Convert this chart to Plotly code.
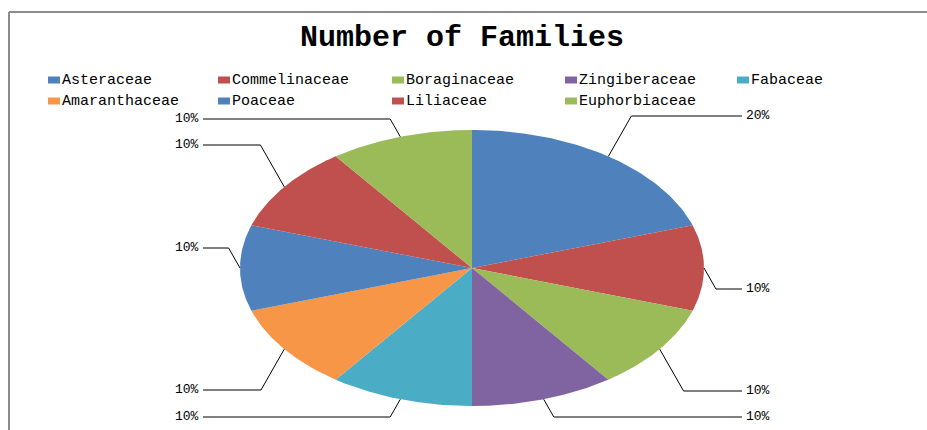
import numpy as np
import plotly.graph_objects as go

# ---- data ----
categories = ["Asteraceae", "Commelinaceae", "Boraginaceae", "Zingiberaceae", "Fabaceae",
              "Amaranthaceae", "Poaceae", "Liliaceae", "Euphorbiaceae"]
values = [2, 1, 1, 1, 1, 1, 1, 1, 1]
title_text = "Number of Families"

# ---- styles / layout positions ----
colors = ["#4F81BD", "#C0504D", "#9BBB59", "#8064A2", "#4BACC6",
          "#F79646", "#4F81BD", "#C0504D", "#9BBB59"]
W, H = 927, 430
CX, CY, RX, RY = 472, 268, 232, 138          # elliptical pie geometry (pixels)
LABEL_Y = [116, 289, 391, 417, 417, 390, 248, 145, 119]   # leader line levels
RIGHT_END, LEFT_END = 742, 203
SLANT = 0.57
LEGEND_COL_X = [48, 218, 392, 565, 737]
LEGEND_ROW_Y = [80, 101]
MONO = "Liberation Mono, DejaVu Sans Mono, monospace"

fig = go.Figure()
total = float(sum(values))
cum = 0.0
annotations = []
for i, (cat, v, c) in enumerate(zip(categories, values, colors)):
    a0 = 2 * np.pi * cum / total
    a1 = 2 * np.pi * (cum + v) / total
    t = np.linspace(a0, a1, 80)
    xs = np.concatenate([[CX], CX + RX * np.sin(t), [CX]])
    ys = np.concatenate([[CY], CY - RY * np.cos(t), [CY]])
    pct = f"{round(100 * v / total)}%"
    fig.add_trace(go.Scatter(x=xs, y=ys, mode="lines", fill="toself", fillcolor=c,
                             line=dict(width=0, color=c), showlegend=False,
                             hoverinfo="text", hoveron="fills", text=f"{cat}: {v} ({pct})"))
    # leader line
    am = (a0 + a1) / 2
    mx, my = CX + RX * np.sin(am), CY - RY * np.cos(am)
    side = 1 if np.sin(am) > 1e-9 else -1
    ly = LABEL_Y[i]
    ex = mx + side * SLANT * abs(ly - my)
    endx = RIGHT_END if side > 0 else LEFT_END
    fig.add_trace(go.Scatter(x=[mx, ex, endx], y=[my, ly, ly], mode="lines",
                             line=dict(color="black", width=1), showlegend=False,
                             hoverinfo="skip"))
    annotations.append(dict(x=endx + (2 if side > 0 else -2), y=ly - 1, xref="x", yref="y",
                            text=pct, showarrow=False,
                            xanchor="left" if side > 0 else "right", yanchor="middle",
                            font=dict(family=MONO, size=13, color="black")))
    cum += v

# legend (manual, Excel-like)
shapes = []
leg_x, leg_y, leg_t = [], [], []
for i, (cat, c) in enumerate(zip(categories, colors)):
    col, row = i % 5, i // 5
    x0 = LEGEND_COL_X[col]
    y0 = LEGEND_ROW_Y[row]
    shapes.append(dict(type="rect", xref="x", yref="y", x0=x0, x1=x0 + 12,
                       y0=y0 - 3.5, y1=y0 + 3.5, fillcolor=c, line=dict(width=0)))
    leg_x.append(x0 + 14)
    leg_y.append(y0)
    leg_t.append(cat)
fig.add_trace(go.Scatter(x=leg_x, y=leg_y, mode="text", text=leg_t,
                         textposition="middle right",
                         textfont=dict(family=MONO, size=15, color="black"),
                         showlegend=False, hoverinfo="skip"))

# chart border (top and left edges visible)
shapes.append(dict(type="line", xref="x", yref="y", x0=9, x1=W, y0=12, y1=12,
                   line=dict(color="#8C8C8C", width=2)))
shapes.append(dict(type="line", xref="x", yref="y", x0=9, x1=9, y0=12, y1=H,
                   line=dict(color="#8C8C8C", width=2)))

annotations.append(dict(x=462, y=38, xref="x", yref="y", text=f"<b>{title_text}</b>",
                        showarrow=False, xanchor="center", yanchor="middle",
                        font=dict(family=MONO, size=30, color="black")))

fig.update_layout(
    width=W, height=H, margin=dict(l=0, r=0, t=0, b=0),
    paper_bgcolor="white", plot_bgcolor="white",
    xaxis=dict(range=[0, W], visible=False, fixedrange=True),
    yaxis=dict(range=[H, 0], visible=False, fixedrange=True),
    shapes=shapes, annotations=annotations, showlegend=False,
)
fig.write_html("out.html", config={"displayModeBar": False})
